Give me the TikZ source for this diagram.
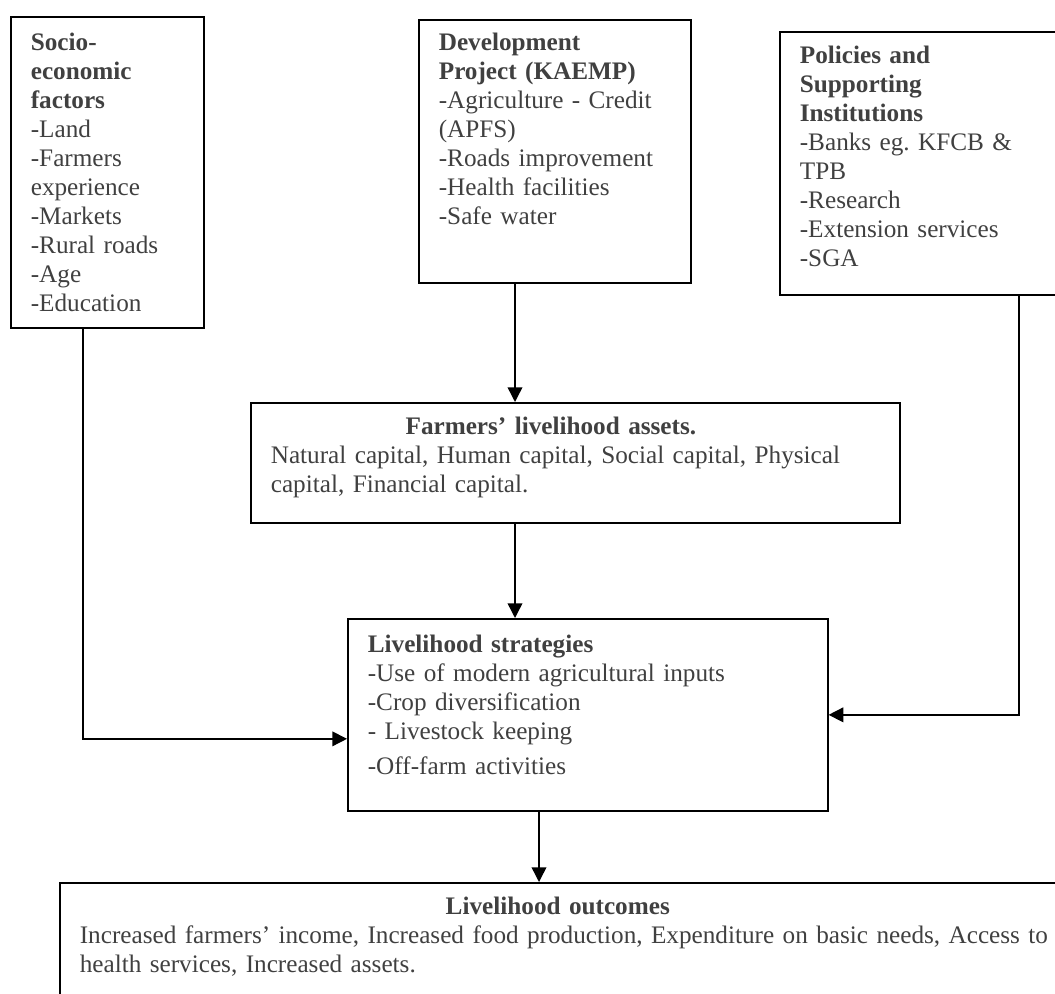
\documentclass[tikz,border=0pt]{standalone}
\usepackage{fontspec}
\setmainfont{Liberation Serif}
\usetikzlibrary{arrows.meta,calc}
\definecolor{inkgray}{HTML}{404040}
\tikzstyle{box}=[draw,line width=0.8pt,anchor=north west,align=left,inner xsep=9.52pt,inner ysep=0pt,text=inkgray,font=\fontsize{12pt}{13.8pt}\selectfont]
\tikzstyle{flow}=[line width=0.7pt,-{Triangle[length=7pt,width=7pt]}]

\begin{document}
\begin{tikzpicture}[x=0.476pt,y=-0.476pt]
  \useasboundingbox (0,0) rectangle (1055,994);
  % top row
  \node [box,text width=72.8pt,text height=16.2pt,text depth=131.9pt] (socio) at (10,16)
    {{\bfseries Socio-\\economic\\factors}\\-Land\\-Farmers\\experience\\-Markets\\-Rural roads\\-Age\\-Education};
  \node [box,text width=110.4pt,text height=14.8pt,text depth=110.4pt] (devproj) at (418,19)
    {{\bfseries Development\\Project (KAEMP)}\\-Agriculture - Credit\\(APFS)\\-Roads improvement\\-Health facilities\\-Safe water};
  \node [box,text width=121.9pt,text height=15.2pt,text depth=110pt] (policy) at (779,31)
    {{\bfseries Policies and\\Supporting\\Institutions}\\-Banks eg.\ KFCB \&\\TPB\\-Research\\-Extension services\\-SGA};
  % middle
  \node [box,text width=289.9pt,text height=15.2pt,text depth=41.9pt] (assets) at (250,402)
    {\makebox[266.6pt]{\bfseries Farmers’ livelihood assets.}\\Natural capital, Human capital, Social capital, Physical\\capital, Financial capital.};
  \node [box,text width=209.4pt,text height=16.2pt,text depth=75.2pt] (strategy) at (347,618)
    {{\bfseries Livelihood strategies}\\-Use of modern agricultural inputs\\-Crop diversification\\-~Livestock keeping\\[2.9pt]-Off-farm activities};
  % bottom
  \node [box,text width=464.6pt,text height=15.2pt,text depth=46.6pt] (outcome) at (59,882)
    {\makebox[455pt]{\bfseries Livelihood outcomes}\\Increased farmers’ income, Increased food production, Expenditure on basic needs, Access to\\health services, Increased assets.};

  % connectors
  \coordinate (devout) at ($(devproj.south west)+(97,0)$);
  \coordinate (assetsout) at ($(assets.south west)+(265,0)$);
  \coordinate (strategyout) at ($(strategy.south west)+(192,0)$);
  \coordinate (socioout) at ($(socio.south west)+(73,0)$);
  \coordinate (policyout) at ($(policy.south west)+(240,0)$);
  \draw [flow] (devout) -- (devout |- assets.north);
  \draw [flow] (assetsout) -- (assetsout |- strategy.north);
  \draw [flow] (strategyout) -- (strategyout |- outcome.north);
  \draw [flow] (socioout) |- ($(strategy.west)+(0,24)$);
  \draw [flow] (policyout) |- (strategy.east);
\end{tikzpicture}
\end{document}
